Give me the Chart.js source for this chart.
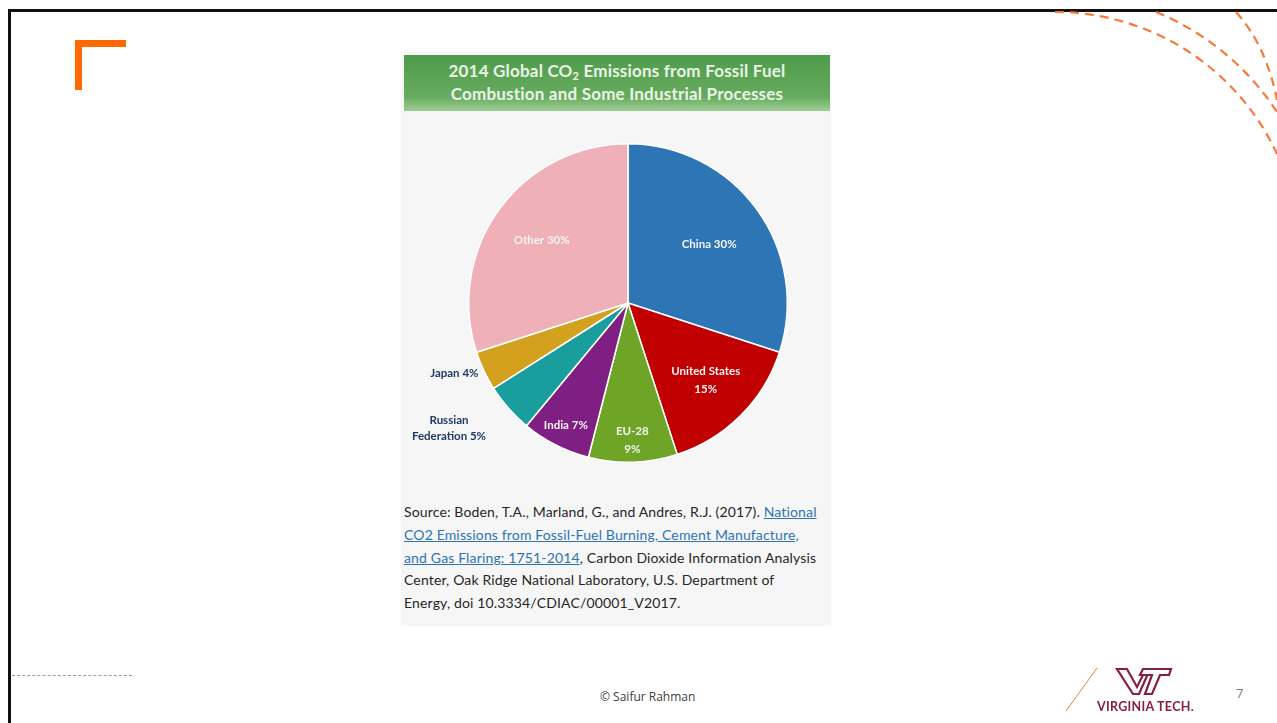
<!DOCTYPE html>
<html lang="en">
<head>
    <meta charset="UTF-8">
    <title>2014 Global CO2 Emissions</title>
    <script src="https://cdn.jsdelivr.net/npm/chart.js"></script>
    <style>
        body {
            margin: 0;
            width: 1277px;
            height: 723px;
            background: #fff;
            position: relative;
            overflow: hidden;
            font-family: Lato, "Open Sans", sans-serif;
        }
        .frame-top { position: absolute; left: 8px; top: 9px; width: 1269px; height: 3px; background: #111; }
        .frame-left { position: absolute; left: 8px; top: 9px; width: 3px; height: 714px; background: #111; }
        .corner {
            position: absolute; left: 75px; top: 40px; width: 44px; height: 43px;
            border-top: 7px solid #ff6a00; border-left: 7px solid #ff6a00;
        }
        .panel { position: absolute; left: 401px; top: 52px; width: 430px; height: 574px; background: #f6f6f6; }
        .banner {
            position: absolute; left: 404px; top: 55px; width: 426px; height: 56px;
            background: linear-gradient(#4f9b4c, #67ab5f 75%, #9fce95);
            color: #eaf5e6; font-weight: bold; font-size: 17px; line-height: 23px; letter-spacing: 0.2px;
            text-align: center; padding-top: 4px; box-sizing: border-box;
        }
        .banner sub { font-size: 11px; line-height: 0; vertical-align: -3px; }
        #chartBox { position: absolute; left: 404px; top: 123px; width: 448px; height: 360px; }
        .source {
            position: absolute; left: 404px; top: 501px; white-space: nowrap;
            font-size: 14px; line-height: 22.8px; letter-spacing: 0.15px; color: #262626;
        }
        .source a { color: #2e74b5; text-decoration: underline; }
        .footer { position: absolute; left: 600px; top: 688px; font-size: 12px; color: #404040; font-family: "Open Sans", sans-serif; }
        .page { position: absolute; left: 1236px; top: 684px; font-size: 13px; color: #777; font-family: "Open Sans", sans-serif; }
        .dash { position: absolute; left: 12px; top: 675px; width: 120px; border-top: 1px dashed #999; }
        svg.deco { position: absolute; left: 0; top: 0; }
    </style>
</head>
<body>
    <div class="frame-top"></div>
    <div class="frame-left"></div>
    <div class="corner"></div>
    <div class="dash"></div>

    <div class="panel"></div>
    <div class="banner">2014 Global CO<sub>2</sub> Emissions from Fossil Fuel<br>Combustion and Some Industrial Processes</div>
    <div id="chartBox"><canvas id="emissionsPie"></canvas></div>
    <div class="source">
        Source: Boden, T.A., Marland, G., and Andres, R.J. (2017). <a>National</a><br>
        <a>CO2 Emissions from Fossil-Fuel Burning, Cement Manufacture,</a><br>
        <a>and Gas Flaring: 1751-2014</a>, Carbon Dioxide Information Analysis<br>
        Center, Oak Ridge National Laboratory, U.S. Department of<br>
        Energy, doi 10.3334/CDIAC/00001_V2017.
    </div>

    <div class="footer">© Saifur Rahman</div>
    <div class="page">7</div>

    <svg class="deco" width="1277" height="723">
        <!-- dashed arcs, top right -->
        <g fill="none" stroke="#f47b3c" stroke-width="2.2" stroke-dasharray="9 6">
            <path d="M1055,12 A244,244 0 0 1 1277,154"/>
            <path d="M1156,12 A264,264 0 0 1 1277,112"/>
            <path d="M1236,12 Q1266,45 1277,100"/>
        </g>
        <!-- logo -->
        <line x1="1066" y1="711" x2="1097" y2="668" stroke="#f58025" stroke-width="1"/>
        <g fill="#fff" stroke="#861f41" stroke-width="2.2" stroke-linejoin="miter">
            <path d="M1117,669 L1127,669 L1137,687 L1146,669 L1150,669 L1139,694 L1133,694 Z"/>
            <path d="M1143,669 L1171,669 L1169,675 L1160,675 L1152,694 L1145,694 L1152,675 L1140,675 Z"/>
        </g>
        <text x="1097" y="711" fill="#861f41" font-family="Lato, sans-serif" font-weight="bold" font-size="12.5" letter-spacing="0.3">VIRGINIA TECH.</text>
    </svg>

    <script>
        // 2014 emissions share by country / region, clockwise from 12 o'clock
        const categories = ['China', 'United States', 'EU-28', 'India', 'Russian Federation', 'Japan', 'Other'];
        const shares = [30, 15, 9, 7, 5, 4, 30];
        // how each label is split over lines; the share gets appended to the last line
        const labelLines = [['China'], ['United States', ''], ['EU-28', ''], ['India'], ['Russian', 'Federation'], ['Japan'], ['Other']];
        const sliceColors = ['#2e75b6', '#c00000', '#6fa526', '#7f1f84', '#1a9d9d', '#d4a11f', '#efb0b8'];

        function labelFor(i) {
            const lines = labelLines[i].slice();
            const last = lines.length - 1;
            lines[last] = (lines[last] ? lines[last] + ' ' : '') + shares[i] + '%';
            return lines;
        }

        // draws the slice labels, inside the pie or just outside it
        const sliceLabels = {
            id: 'sliceLabels',
            afterDatasetsDraw(chart, args, opts) {
                const ctx = chart.ctx;
                const meta = chart.getDatasetMeta(0);
                ctx.save();
                ctx.font = 'bold 11.5px Lato, sans-serif';
                ctx.textBaseline = 'middle';
                meta.data.forEach((arc, i) => {
                    const p = arc.getProps(['x', 'y', 'startAngle', 'endAngle', 'outerRadius'], true);
                    const mid = (p.startAngle + p.endAngle) / 2;
                    const place = opts.placement[i];
                    const lines = labelFor(i);
                    if (place.out === undefined) {
                        const r = p.outerRadius * place.r;
                        const cx = p.x + Math.cos(mid) * r;
                        const cy = p.y + Math.sin(mid) * r;
                        ctx.fillStyle = opts.insideColor;
                        ctx.textAlign = 'center';
                        lines.forEach((t, k) => ctx.fillText(t, cx, cy + (k - (lines.length - 1) / 2) * 18));
                    } else {
                        const r = p.outerRadius + place.out;
                        const ax = p.x + Math.cos(mid) * r;
                        const ay = p.y + Math.sin(mid) * r;
                        const w = Math.max(...lines.map(t => ctx.measureText(t).width));
                        ctx.fillStyle = opts.outsideColor;
                        ctx.textAlign = 'center';
                        lines.forEach((t, k) => ctx.fillText(t, ax - w / 2, ay + (k - (lines.length - 1) / 2) * 16));
                    }
                });
                ctx.restore();
            }
        };

        new Chart(document.getElementById('emissionsPie'), {
            type: 'pie',
            data: {
                labels: categories,
                datasets: [{
                    data: shares,
                    backgroundColor: sliceColors,
                    borderColor: '#ffffff',
                    borderWidth: 1.5
                }]
            },
            options: {
                responsive: true,
                maintainAspectRatio: false,
                animation: false,
                events: [],
                layout: { padding: { top: 20, bottom: 20 } },
                plugins: {
                    legend: { display: false },
                    tooltip: { enabled: false },
                    sliceLabels: {
                        insideColor: '#f4f4f4',
                        outsideColor: '#1f3a64',
                        placement: [{ r: 0.63 }, { r: 0.69 }, { r: 0.86 }, { r: 0.86 }, { out: 30 }, { out: 6 }, { r: 0.67 }]
                    }
                }
            },
            plugins: [sliceLabels]
        });
    </script>
</body>
</html>
